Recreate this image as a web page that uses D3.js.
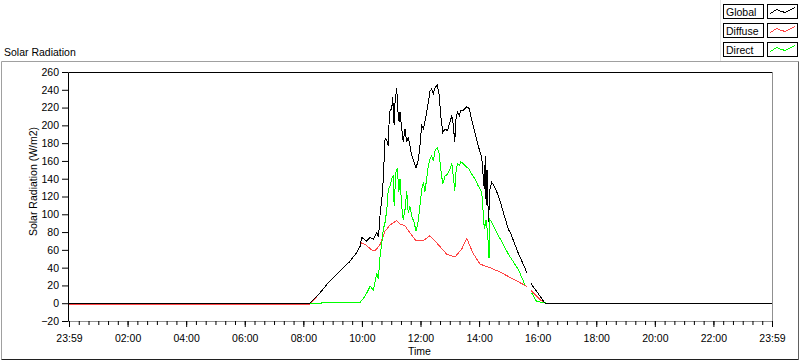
<!DOCTYPE html>
<html><head><meta charset="utf-8">
<script src="https://cdn.jsdelivr.net/npm/d3@7"></script>
<style>
body{margin:0;background:#fff}
svg{display:block}
text{font-family:"Liberation Sans",Arial,sans-serif;fill:#000}
</style>
</head><body>
<svg id="c" width="800" height="361"></svg>
<script>
// ---------- data (time in hours after 23:59, value in W/m2) ----------
const yTickValues = [-20,0,20,40,60,80,100,120,140,160,180,200,220,240,260];
const xTickLabels = ["23:59","02:00","04:00","06:00","08:00","10:00","12:00","14:00","16:00","18:00","20:00","22:00","23:59"];
const seriesNames = ["Global","Diffuse","Direct"];

const globalT = [0,8.23,8.57,8.80,9.08,9.37,9.59,9.82,9.94,9.99,10.16,10.28,10.39,10.51,10.56,10.60,10.62,10.68,10.73,10.79,10.85,10.90,10.94,11.02,11.05,11.10,11.13,11.19,11.22,11.27,11.30,11.36,11.41,11.47,11.53,11.58,11.64,11.70,11.78,11.85,11.93,11.98,12.04,12.10,12.15,12.21,12.27,12.32,12.38,12.44,12.50,12.57,12.64,12.69,12.76,12.84,12.92,13.01,13.07,13.12,13.17,13.21,13.26,13.33,13.37,13.46,13.58,13.66,13.75,13.86,13.97,14.09,14.14,14.18,14.21,14.24,14.27,14.32,14.37,14.43,14.51,14.66,14.83,15.00,15.06,15.33,15.63,15.70,15.78,15.84,16.08,16.25,24];
const globalV = [0,0,11.7,21,30.5,40,47,57,64,74,70,74,72,79.5,75,87,100,117,140,185,183,177,215,219,232,200,226,242,219,204,215,196,181,196,181,187,177,166,159,152,162,177,200,196,204,215,226,238,241,236,243,245,234,211,192,196,194,204,211,200,181,207,215,211,217,217,221,219,206,192,177,164,143,128,165,110,150,91,128,136,132,121,102,83,80,57,34.5,null,22,19,8,0,0];

const diffuseT = [0,8.23,8.57,8.80,9.08,9.37,9.59,9.82,9.94,9.99,10.11,10.33,10.39,10.48,10.62,10.79,10.96,11.19,11.30,11.47,11.64,11.85,12.09,12.32,12.55,12.90,13.18,13.41,13.58,13.78,14.03,14.37,14.72,15.06,15.40,15.63,15.70,15.78,15.84,16.08,16.25,24];
const diffuseV = [-1,-1,11.7,21,30.5,40,47,57,64,68,66,60,59,60,66,81,88,93,89,87,79,70,70,76,68,55,52,61,73,57,44,40,35,29,23,19,null,14,12,4,0,0];

const directT = [0,8.23,9.94,10.11,10.28,10.39,10.51,10.56,10.62,10.68,10.73,10.79,10.85,10.90,10.96,11.02,11.07,11.10,11.16,11.21,11.26,11.30,11.36,11.41,11.47,11.53,11.58,11.64,11.70,11.78,11.85,11.93,11.98,12.04,12.10,12.15,12.21,12.27,12.32,12.38,12.44,12.50,12.57,12.64,12.69,12.76,12.84,12.92,13.01,13.07,13.12,13.17,13.21,13.26,13.33,13.37,13.46,13.58,13.66,13.75,13.86,13.97,14.09,14.14,14.18,14.24,14.29,14.34,14.37,14.43,14.66,14.83,15.00,15.34,15.56,15.65,15.79,15.96,16.31,24];
const directV = [0,0,1,8,19,15,34,27,53,68,83,91,105,128,132,140,143,109,147,152,125,140,109,94,105,126,102,109,98,91,81,94,109,128,136,125,140,155,162,166,160,172,175,168,151,134,143,145,151,157,143,126,147,157,155,159,157,153,151,145,140,132,125,102,83,94,79,51,94,91,76,66,55,38,21,null,12,2,0,0];

const seriesColors = {Global:"#000000", Diffuse:"#ff4444", Direct:"#00ff00"};

// ---------- drawing ----------
const svg = d3.select("#c");
const x = d3.scaleLinear().domain([0,24]).range([69,772]);
const y = d3.scaleLinear().domain([-20,260]).range([321,72]);

// outer panel frame
svg.append("line").attr("x1",1.5).attr("x2",798.5).attr("y1",61.5).attr("y2",61.5).attr("stroke","#a0a0a0");
svg.append("line").attr("x1",1.5).attr("x2",1.5).attr("y1",61.5).attr("y2",359.5).attr("stroke","#a0a0a0");
svg.append("line").attr("x1",798.5).attr("x2",798.5).attr("y1",61.5).attr("y2",359.5).attr("stroke","#606060");
svg.append("line").attr("x1",1.5).attr("x2",798.5).attr("y1",359.5).attr("y2",359.5).attr("stroke","#202020");
svg.append("line").attr("x1",720.5).attr("x2",720.5).attr("y1",0).attr("y2",61).attr("stroke","#e4e4e4");

// title
svg.append("text").attr("x",4).attr("y",56).style("font-size","10.5px").text("Solar Radiation");

// plot borders
svg.append("line").attr("x1",68.5).attr("x2",772.5).attr("y1",72.5).attr("y2",72.5).attr("stroke","#000");
svg.append("line").attr("x1",772.5).attr("x2",772.5).attr("y1",72.5).attr("y2",321.5).attr("stroke","#909090");
svg.append("line").attr("x1",68.5).attr("x2",772.5).attr("y1",321.5).attr("y2",321.5).attr("stroke","#909090");

// y axis
const yAxis = svg.append("g").attr("transform","translate(68,0)")
  .call(d3.axisLeft(y).tickValues(yTickValues).tickSize(6).tickPadding(3));
yAxis.select(".domain").remove();
yAxis.selectAll("text").style("font-size","10.5px").attr("fill","#000");
svg.append("line").attr("x1",68.5).attr("x2",68.5).attr("y1",72.5).attr("y2",321.5).attr("stroke","#000");

// x axis
const xMinor = svg.append("g").attr("transform","translate(0,321)")
  .call(d3.axisBottom(x).tickValues(d3.range(0,24.001,1/3)).tickSize(4).tickFormat(""));
xMinor.select(".domain").remove();
const xAxis = svg.append("g").attr("transform","translate(0,321)")
  .call(d3.axisBottom(x).tickValues(d3.range(0,24.001,2)).tickSize(6).tickPadding(8).tickFormat((d,i)=>xTickLabels[i]));
xAxis.select(".domain").remove();
xAxis.selectAll("text").style("font-size","10.5px").attr("fill","#000");

// axis titles
svg.append("text").attr("transform","translate(37,181.5) rotate(-90)").attr("text-anchor","middle")
  .style("font-size","10.5px").text("Solar Radiation (W/m2)");
svg.append("text").attr("x",419.5).attr("y",355).attr("text-anchor","middle").style("font-size","10.5px").text("Time");

// lines
function mk(T,V){ return T.map((t,i)=>({t:t,v:V[i]})); }
const data = {Global:mk(globalT,globalV), Diffuse:mk(diffuseT,diffuseV), Direct:mk(directT,directV)};
const line = d3.line().defined(d=>d.v!==null).x(d=>x(d.t)).y(d=>y(d.v));
const plot = svg.append("g");
["Diffuse","Direct","Global"].forEach(n=>{
  plot.append("path").datum(data[n]).attr("d",line).attr("fill","none")
    .attr("stroke",seriesColors[n]).attr("stroke-width",1).attr("shape-rendering","crispEdges");
});

// legend
const rowsY = [4,23,42];
const sample = [[3,9],[9,5],[14,7],[18,8],[23,5],[28,3]];
seriesNames.forEach((n,i)=>{
  const g = svg.append("g").attr("transform",`translate(0,${rowsY[i]})`);
  g.append("rect").attr("x",723.5).attr("y",0.5).attr("width",40).attr("height",14)
    .attr("fill","#fff").attr("stroke","#000");
  g.append("text").attr("x",726).attr("y",11.5).style("font-size","10.5px").text(n);
  g.append("rect").attr("x",767.5).attr("y",0.5).attr("width",30).attr("height",14)
    .attr("fill","#fff").attr("stroke","#000");
  g.append("path").attr("d",d3.line()(sample.map(p=>[767.5+p[0],0.5+p[1]])))
    .attr("fill","none").attr("stroke",seriesColors[n]).attr("stroke-width",1).attr("shape-rendering","crispEdges");
});
</script>
</body></html>
